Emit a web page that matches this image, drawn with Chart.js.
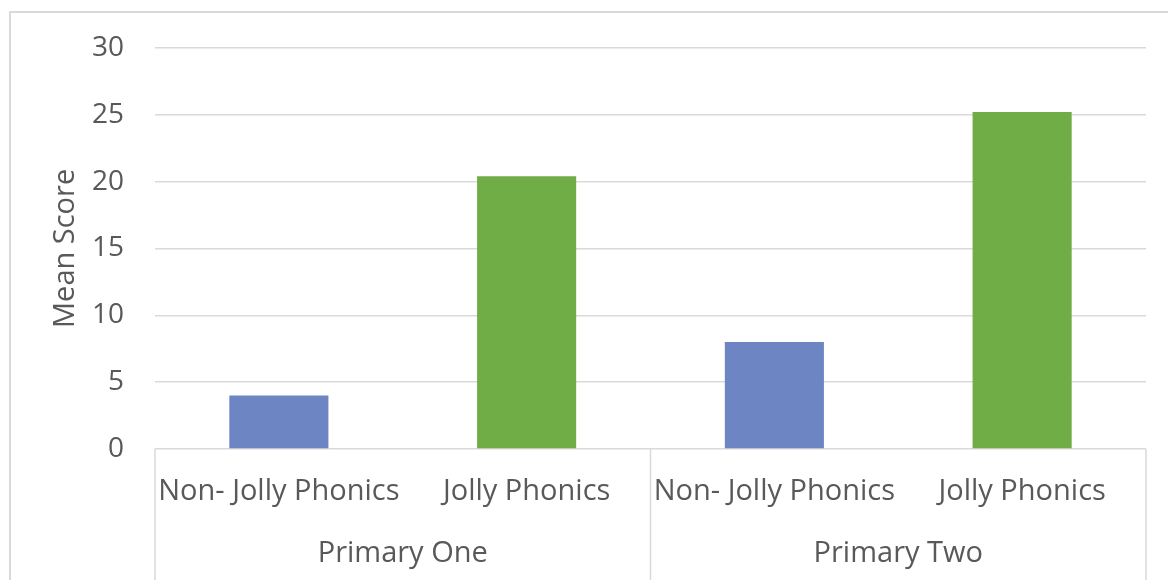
<!DOCTYPE html>
<html>
<head>
<meta charset="utf-8">
<script src="https://cdn.jsdelivr.net/npm/chart.js@4/dist/chart.umd.min.js"></script>
<style>
  html, body { margin: 0; padding: 0; background: #fff; }
  #wrap { width: 1168px; height: 580px; }
</style>
</head>
<body>
<div id="wrap"><canvas id="myChart" width="1168" height="580"></canvas></div>
<script>
// categories, groups and values
var categorias = ['Non- Jolly Phonics', 'Jolly Phonics', 'Non- Jolly Phonics', 'Jolly Phonics'];
var grupos = ['Primary One', 'Primary Two'];
var medias = [4.0, 20.4, 8.0, 25.2];
var cores = ['#6e85c3', '#70ad47', '#6e85c3', '#70ad47'];
var ticks_y = [0, 5, 10, 15, 20, 25, 30];

var cinza = '#d9d9d9';
var texto = '#595959';
var fonte = { family: '"Open Sans", sans-serif', size: 29 };
var fonte_ticks = { family: '"Open Sans", sans-serif', size: 28 };

// moldura e separadores do eixo de categorias (estilo Excel)
var moldura = {
  id: 'moldura',
  afterDraw: function (chart) {
    var c = chart.ctx;
    var x = chart.scales.x;
    var area = chart.chartArea;
    c.save();
    c.strokeStyle = cinza;
    c.lineWidth = 2;
    // borda externa
    c.beginPath();
    c.moveTo(10, chart.height + 5);
    c.lineTo(10, 12);
    c.lineTo(chart.width + 5, 12);
    c.stroke();
    // separadores verticais dos grupos
    var meio = (x.getPixelForValue(1) + x.getPixelForValue(2)) / 2;
    c.lineWidth = 1.5;
    [x.left, meio, x.right].forEach(function (px) {
      c.beginPath();
      c.moveTo(px, area.bottom);
      c.lineTo(px, chart.height);
      c.stroke();
    });
    c.restore();
  }
};

var ctx = document.getElementById('myChart').getContext('2d');
var myChart = new Chart(ctx, {
  type: 'bar',
  data: {
    labels: categorias,
    datasets: [{
      label: 'Mean Score',
      data: medias,
      backgroundColor: cores,
      borderWidth: 0,
      barPercentage: 0.4,
      categoryPercentage: 1.0
    }]
  },
  options: {
    responsive: false,
    animation: false,
    layout: { padding: { top: 45, right: 22, left: 0, bottom: 0 } },
    plugins: {
      legend: { display: false },
      tooltip: { enabled: false }
    },
    scales: {
      x: {
        type: 'category',
        position: 'bottom',
        grid: { display: false, drawTicks: false },
        border: { display: false },
        ticks: { color: texto, font: fonte, padding: 25, maxRotation: 0, autoSkip: false },
        afterFit: function (s) { s.height = 75; }
      },
      x2: {
        type: 'category',
        position: 'bottom',
        labels: grupos,
        offset: true,
        grid: { display: false, drawTicks: false },
        border: { display: false },
        ticks: { color: texto, font: fonte, padding: 12, maxRotation: 0 },
        afterFit: function (s) { s.height = 56; }
      },
      y: {
        min: 0,
        max: 30,
        afterBuildTicks: function (s) {
          s.ticks = ticks_y.map(function (v) { return { value: v }; });
        },
        grid: { color: cinza, lineWidth: 1.5, drawTicks: false },
        border: { display: false },
        ticks: { color: texto, font: fonte_ticks, padding: 31 },
        title: {
          display: true,
          text: 'Mean Score',
          color: texto,
          font: fonte,
          padding: { top: 48, bottom: 0 }
        },
        afterFit: function (s) { s.width = 155; }
      }
    }
  },
  plugins: [moldura]
});
</script>
</body>
</html>
